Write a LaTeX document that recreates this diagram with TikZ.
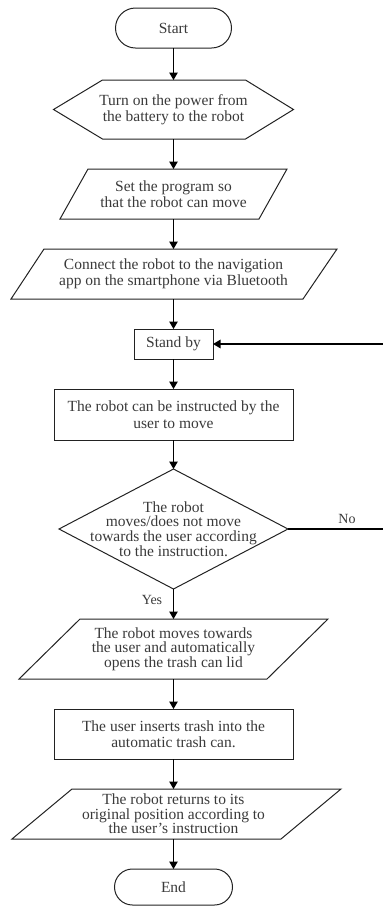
\documentclass[tikz,border=0pt]{standalone}
\usepackage{fontspec}
\setmainfont{Liberation Serif}
\usetikzlibrary{arrows.meta,shapes.misc,calc}
\definecolor{txt}{HTML}{3A3A3A}
\definecolor{ln}{HTML}{222222}
\begin{document}
\begin{tikzpicture}[x=1pt,y=-1pt,
  box/.style={inner sep=0pt, outer sep=0pt, align=center, text=txt, font=\fontsize{15.5}{16.5}\selectfont},
  tight/.style={font=\fontsize{15.5}{14.6}\selectfont},
  outline/.style={draw=ln, line width=1pt},
  link/.style={draw=black, line width=1.2pt},
  arr/.style={link, -{Triangle[length=7.5pt,width=8.5pt]}},
  lbl/.style={inner sep=0pt, text=txt, font=\fontsize{14}{16}\selectfont},
  ]
\useasboundingbox (0,0) rectangle (383,906);

% nodes
\node[box, outline, rounded rectangle, minimum width=116pt, minimum height=40pt] (start) at (173.5,28) {Start};
\node[box, minimum width=240pt, minimum height=59pt] (hex) at (173.5,109.5) {Turn on the power from\\the battery to the robot};
\node[box, minimum width=227pt, minimum height=50pt] (p1) at (173.5,194) {Set the program so\\that the robot can move};
\node[box, minimum width=325pt, minimum height=50pt] (p2) at (173.5,274) {Connect the robot to the navigation\\app on the smartphone via Bluetooth};
\node[box, outline, minimum width=79pt, minimum height=30pt] (sb) at (173.5,344) {Stand by};
\node[box, outline, minimum width=239pt, minimum height=51pt] (r2) at (173.5,414.5) {The robot can be instructed by the\\user to move};
\node[box, tight, minimum width=229pt, minimum height=120pt] (d) at (173.5,529) {The robot\\moves/does not move\\towards the user according\\to the instruction.};
\node[box, tight, minimum width=309pt, minimum height=60pt] (p3) at (173.5,649) {The robot moves towards\\the user and automatically\\opens the trash can lid};
\node[box, outline, minimum width=239pt, minimum height=50pt] (r3) at (173.5,734) {The user inserts trash into the\\automatic trash can.};
\node[box, tight, minimum width=240pt, minimum height=50pt] (p4) at (173.5,814) {The robot returns to its\\original position according to\\the user's instruction};
\node[box, outline, rounded rectangle, minimum width=118pt, minimum height=36pt] (end) at (173.5,887) {End};

% outlines of custom shapes
\draw[outline] (hex.west) -- ([xshift=49pt]hex.north west) -- ([xshift=-48pt]hex.north east) -- (hex.east) -- ([xshift=-48pt]hex.south east) -- ([xshift=49pt]hex.south west) -- cycle;
\draw[outline] ([xshift=28pt]p1.north west) -- (p1.north east) -- ([xshift=-28pt]p1.south east) -- (p1.south west) -- cycle;
\draw[outline] ([xshift=33pt]p2.north west) -- ([xshift=1pt]p2.north east) -- ([xshift=-33pt]p2.south east) -- (p2.south west) -- cycle;
\draw[outline] (d.north) -- (d.east) -- (d.south) -- (d.west) -- cycle;
\draw[outline] ([xshift=61pt]p3.north west) -- (p3.north east) -- ([xshift=-61pt]p3.south east) -- (p3.south west) -- cycle;
\draw[outline] ($(p4.center)+(-101.5,-25)$) -- ($(p4.center)+(167.5,-25)$) -- ($(p4.center)+(107.5,25)$) -- ($(p4.center)+(-161.5,25)$) -- cycle;

% connectors
\draw[arr] (start) -- (hex);
\draw[arr] (hex) -- (p1);
\draw[arr] (p1) -- (p2);
\draw[arr] (p2) -- (sb);
\draw[arr] (sb) -- (r2);
\draw[arr] (r2) -- (d.north);
\draw[arr] (d.south) -- (p3);
\draw[arr] (p3) -- (r3);
\draw[arr] (r3) -- (p4);
\draw[arr] (p4) -- (end);

\coordinate (noend) at (383,529);
\coordinate (sbin) at (383,344);
\draw[link] (d.east) -- (noend);
\draw[arr] (sbin) -- (sb.east);

\node[lbl] (no) at (347,519) {No};
\node[lbl] (yes) at (152,600) {Yes};
\end{tikzpicture}
\end{document}
